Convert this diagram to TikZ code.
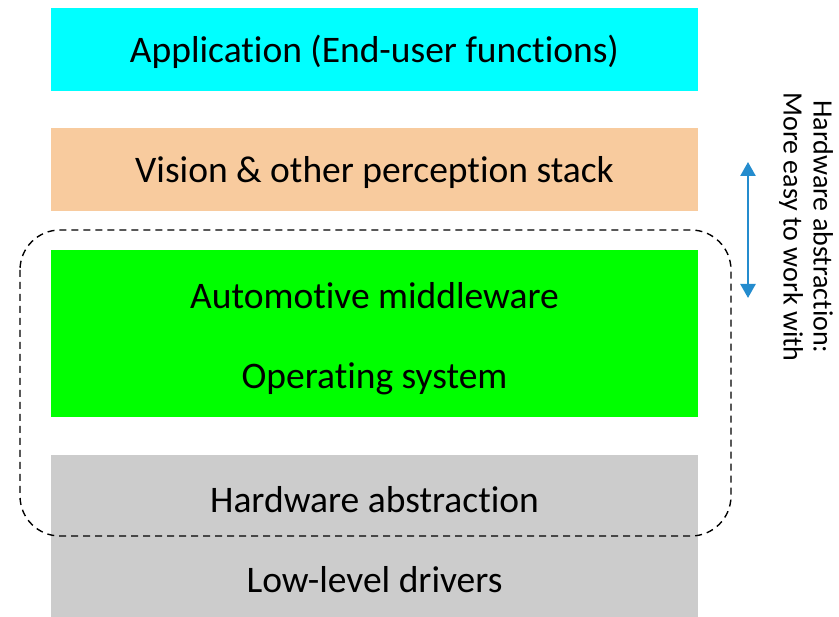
\documentclass[tikz,border=0pt]{standalone}
\usepackage{fontspec}
\setmainfont[Ligatures=NoCommon]{Carlito}
\usetikzlibrary{arrows.meta}
\definecolor{appcyan}{RGB}{0,255,255}
\definecolor{visionpeach}{RGB}{248,203,158}
\definecolor{midgreen}{RGB}{0,255,0}
\definecolor{hwgray}{RGB}{204,204,204}
\definecolor{arrowblue}{RGB}{36,140,206}
\begin{document}
\begin{tikzpicture}[x=1pt,y=-1pt,
  layer/.style={anchor=north west, inner sep=0pt, outer sep=0pt, minimum width=647pt, draw=none},
  label/.style={font=\fontsize{37.5}{45}\selectfont, inner sep=0pt},
  group/.style={draw=black, dashed, line width=1.4pt, dash pattern=on 7pt off 5pt, rounded corners=40pt}
]
\useasboundingbox (0,0) rectangle (839,617);
% stacked layers
\node[layer, fill=appcyan, minimum height=83pt] (app) at (51,8) {};
\node[layer, fill=visionpeach, minimum height=83pt] (vis) at (51,128) {};
\node[layer, fill=midgreen, minimum height=167pt] (mid) at (51,250) {};
\node[layer, fill=hwgray, minimum height=81pt] (hal) at (51,455) {};
\node[layer, fill=hwgray, minimum height=81pt] (drv) at (51,536) {};
% layer captions
\node[label] (tapp) at (374.5,52) {Application (End-user functions)};
\node[label] (tvis) at (374.5,173) {Vision \& other perception stack};
\node[label] (tmw) at (374.5,296) {Automotive middleware};
\node[label] (tos) at (374.5,379) {Operating system};
\node[label] (thal) at (374.5,500) {Hardware abstraction};
\node[label] (tdrv) at (374.5,580) {Low-level drivers};
% dashed grouping around middleware and hardware abstraction
\coordinate (gnw) at (20,230);
\coordinate (gse) at (731,536);
\draw[group] (gnw) rectangle (gse);
% abstraction arrow and side note
\coordinate (atop) at (748,162);
\coordinate (abot) at (748,298);
\draw[arrowblue, line width=2.5pt, {Triangle[length=14pt,width=15pt]}-{Triangle[length=14pt,width=15pt]}] (atop) -- (abot);
\node[rotate=-90, align=center, font=\fontsize{28}{30}\selectfont, inner sep=0pt] (note) at (806,227) {Hardware abstraction:\\More easy to work with};
\end{tikzpicture}
\end{document}
